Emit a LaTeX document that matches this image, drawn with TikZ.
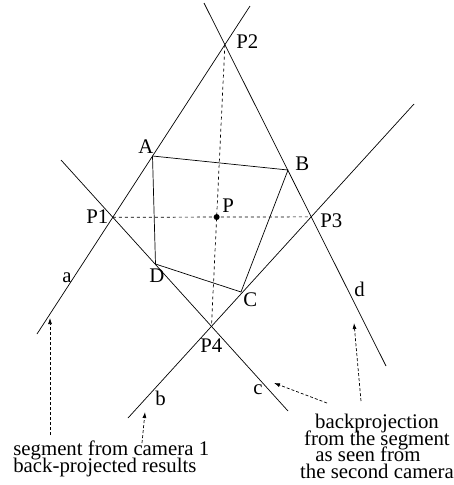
\documentclass[tikz,border=0pt]{standalone}
\usepackage{fontspec}
\setmainfont{Liberation Serif}
\usetikzlibrary{arrows.meta}
\newcommand\figfont{\fontsize{20.8}{16.5}\selectfont\lineskiplimit=-30pt\relax}

\begin{document}
\begin{tikzpicture}[x=1pt, y=-1pt, line width=0.7pt,
  every node/.style={font=\figfont, inner sep=0pt},
  lbl/.style={anchor=base west},
  hint/.style={dash pattern=on 3pt off 2pt, -{Latex[length=6pt,width=4pt]}}]
\useasboundingbox (0,0) rectangle (454,485);
% --- the four back-projected lines ---
\coordinate (a1) at (37,334);  \coordinate (a2) at (250,6);
\coordinate (d1) at (204,3);   \coordinate (d2) at (386,366);
\coordinate (b1) at (128,418); \coordinate (b2) at (414,104);
\coordinate (c1) at (61,160);  \coordinate (c2) at (288,411);
\draw (a1) -- (a2);
\draw (d1) -- (d2);
\draw (b1) -- (b2);
\draw (c1) -- (c2);
% --- crossing points ---
\coordinate (P1) at (intersection of a1--a2 and c1--c2);
\coordinate (P2) at (intersection of a1--a2 and d1--d2);
\coordinate (P3) at (intersection of d1--d2 and b1--b2);
\coordinate (P4) at (intersection of b1--b2 and c1--c2);
\draw[dashed] (P1) -- (P3);
\draw[dashed] (P2) -- (P4);
\coordinate (P) at (intersection of P1--P3 and P2--P4);
\fill (P) circle[radius=3pt];
% --- the quadrilateral ---
\coordinate (A) at (152.5,156);
\coordinate (B) at (288,170);
\coordinate (C) at (241,292);
\coordinate (D) at (155.5,264);
\draw (A) -- (B) -- (C) -- (D) -- cycle;
% --- labels ---
\node[lbl] (lP2) at (236,48) {P2};
\node[lbl] (lA) at (138,153) {A};
\node[lbl] (lB) at (295,170) {B};
\node[lbl] (lP) at (222,212) {P};
\node[lbl] (lP1) at (86,223) {P1};
\node[lbl] (lP3) at (320,227) {P3};
\node[lbl] (la) at (62,282) {a};
\node[lbl] (lD) at (149,282) {D};
\node[lbl] (lC) at (243,306) {C};
\node[lbl] (ld) at (354,296) {d};
\node[lbl] (lP4) at (200,352) {P4};
\node[lbl] (lb) at (155,405) {b};
\node[lbl] (lc) at (253,394) {c};
% --- notes (base = last line) ---
\node[anchor=base west, align=left] (cam1) at (13,472) {segment from camera 1\\back-projected results};
\node[anchor=base, align=center] (cam2) at (377,478) {backprojection\\from the segment\\as seen from\rule{18pt}{0pt}\\the second camera};
\coordinate (t1) at (50,435);  \coordinate (h1) at (50,318);
\coordinate (t2) at (142,443); \coordinate (h2) at (145,412);
\coordinate (t3) at (327,403); \coordinate (h3) at (274,383);
\coordinate (t4) at (361,401); \coordinate (h4) at (354,323);
\draw[hint] (t1) -- (h1);
\draw[hint] (t2) -- (h2);
\draw[hint] (t3) -- (h3);
\draw[hint] (t4) -- (h4);
\end{tikzpicture}
\end{document}
